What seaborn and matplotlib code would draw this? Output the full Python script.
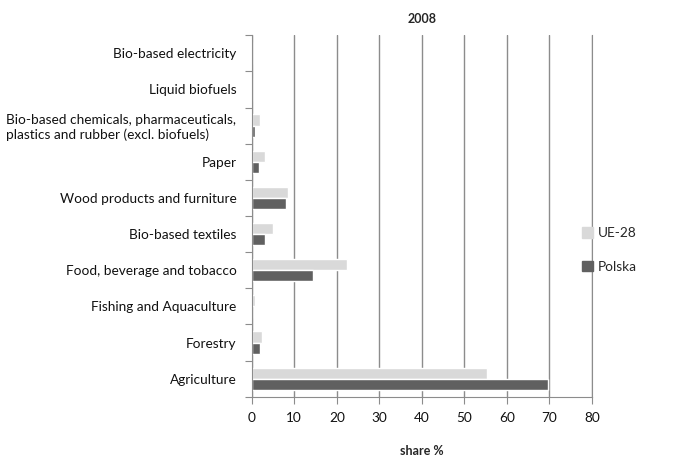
import pandas as pd
import seaborn as sns
import matplotlib.pyplot as plt

# Dane (udzial %, 2008)
categories = ["Bio-based electricity", "Liquid biofuels",
              "Bio-based chemicals, pharmaceuticals,\nplastics and rubber (excl. biofuels)",
              "Paper", "Wood products and furniture", "Bio-based textiles",
              "Food, beverage and tobacco", "Fishing and Aquaculture",
              "Forestry", "Agriculture"]
ue28 = [0.0, 0.0, 1.9, 3.1, 8.6, 5.0, 22.3, 0.8, 2.3, 55.3]
polska = [0.0, 0.0, 0.7, 1.6, 8.0, 3.1, 14.5, 0.1, 2.0, 69.6]
series = ["UE-28", "Polska"]
colors = ["#d9d9d9", "#606060"]

df = pd.DataFrame({
    "sector": categories * 2,
    "share": ue28 + polska,
    "series": [series[0]] * len(categories) + [series[1]] * len(categories),
})

sns.set_style("white")
plt.rcParams['font.family'] = ['Lato', 'DejaVu Sans']
plt.rcParams['font.size'] = 9.8

fig = plt.figure(figsize=(6.86, 4.63), dpi=100)
ax = fig.add_axes([0.367, 0.143, 0.496, 0.781])

sns.barplot(data=df, y="sector", x="share", hue="series", order=categories,
            hue_order=series, palette=colors, width=0.62, orient="h",
            saturation=1, ax=ax, legend=False)

ax.set_xlim(0, 80)
ax.set_xticks(range(0, 81, 10))
ax.set_ylim(len(categories) - 0.5, -0.5)
ax.xaxis.grid(True, color="#8c8c8c", lw=1)
ax.set_axisbelow(True)
ax.spines["top"].set_visible(False)
for s in ["left", "bottom", "right"]:
    ax.spines[s].set_color("#8c8c8c")

# ticks na granicach kategorii
ax.set_yticks([i + 0.5 for i in range(-1, len(categories))], minor=False)
ax.set_yticklabels([])
ax.set_yticks(range(len(categories)), minor=True)
labels = ax.set_yticklabels(categories, minor=True, fontsize=9.8, color="#111111")
labels[2].set_multialignment("left")
ax.tick_params(axis="y", which="major", length=5, color="#8c8c8c", left=True)
ax.tick_params(axis="y", which="minor", length=0, pad=11)
ax.tick_params(axis="x", length=5, color="#8c8c8c", bottom=True, labelsize=9.8,
               pad=6, labelcolor="#111111")

ax.set_xlabel("share %", fontsize=9, fontweight="bold")
ax.xaxis.set_label_coords(0.5, -0.132)
ax.set_ylabel("")
ax.set_title("2008", fontsize=9, fontweight="bold", pad=9)

handles = [plt.Rectangle((0, 0), 1, 1, color=c) for c in colors]
fig.legend(handles, series, loc="center left", bbox_to_anchor=(0.83, 0.46),
           frameon=False, handlelength=0.8, handleheight=0.8, labelspacing=1.6,
           handletextpad=0.4, fontsize=9.8)

plt.savefig("out.png", dpi=100)
plt.close()
